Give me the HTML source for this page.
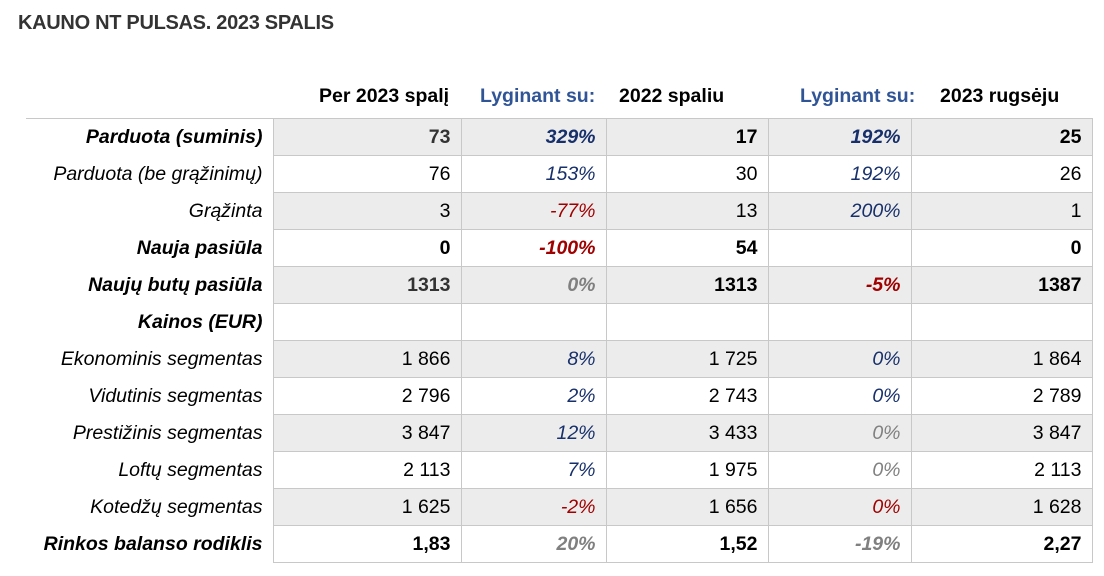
<!DOCTYPE html>
<html><head><meta charset="utf-8">
<style>
body{margin:0;width:1104px;height:576px;background:#fff;font-family:"Liberation Sans",Arial,sans-serif;position:relative;overflow:hidden}
#title{position:absolute;left:18px;top:12px;font-size:20px;font-weight:bold;color:#333;letter-spacing:-0.3px}
.hd{position:absolute;top:85px;font-size:19.5px;font-weight:bold;color:#000;white-space:nowrap}
.hd.b{color:#2f5597}
#topline{position:absolute;left:26px;top:118px;width:1066px;height:1px;background:#c8c8c8}
table{position:absolute;left:26px;top:118px;border-collapse:collapse;font-size:19.5px;table-layout:fixed}
td{height:36px;padding:0 10px 0 0;text-align:right;border:1px solid #c8c8c8;white-space:nowrap;line-height:36px;color:#000}
td.l{border:none;font-style:italic;padding-right:10px;}
tr.g td:not(.l){background:#ececec}
.bo{font-weight:bold}
.n{color:#17306b;font-style:italic}
.r{color:#a00000;font-style:italic}
.s{color:#808080;font-style:italic}
.dk{color:#333}
</style></head><body>
<div id="title">KAUNO NT PULSAS. 2023 SPALIS</div>
<div class="hd" style="left:319px">Per 2023 spalį</div>
<div class="hd b" style="left:480px">Lyginant su:</div>
<div class="hd" style="left:619px">2022 spaliu</div>
<div class="hd b" style="left:800px">Lyginant su:</div>
<div class="hd" style="left:940px">2023 rugsėju</div>
<div id="topline"></div>
<table>
<colgroup><col style="width:247px"><col style="width:188px"><col style="width:145px"><col style="width:162px"><col style="width:143px"><col style="width:181px"></colgroup>
<tr class="g bo"><td class="l">Parduota (suminis)</td><td class="dk">73</td><td class="n">329%</td><td>17</td><td class="n">192%</td><td>25</td></tr>
<tr><td class="l">Parduota (be grąžinimų)</td><td>76</td><td class="n">153%</td><td>30</td><td class="n">192%</td><td>26</td></tr>
<tr class="g"><td class="l">Grąžinta</td><td>3</td><td class="r">-77%</td><td>13</td><td class="n">200%</td><td>1</td></tr>
<tr class="bo"><td class="l">Nauja pasiūla</td><td>0</td><td class="r">-100%</td><td>54</td><td></td><td>0</td></tr>
<tr class="g bo"><td class="l">Naujų butų pasiūla</td><td class="dk">1313</td><td class="s">0%</td><td>1313</td><td class="r">-5%</td><td>1387</td></tr>
<tr class="bo"><td class="l">Kainos (EUR)</td><td></td><td></td><td></td><td></td><td></td></tr>
<tr class="g"><td class="l">Ekonominis segmentas</td><td>1 866</td><td class="n">8%</td><td>1 725</td><td class="n">0%</td><td>1 864</td></tr>
<tr><td class="l">Vidutinis segmentas</td><td>2 796</td><td class="n">2%</td><td>2 743</td><td class="n">0%</td><td>2 789</td></tr>
<tr class="g"><td class="l">Prestižinis segmentas</td><td>3 847</td><td class="n">12%</td><td>3 433</td><td class="s">0%</td><td>3 847</td></tr>
<tr><td class="l">Loftų segmentas</td><td>2 113</td><td class="n">7%</td><td>1 975</td><td class="s">0%</td><td>2 113</td></tr>
<tr class="g"><td class="l">Kotedžų segmentas</td><td>1 625</td><td class="r">-2%</td><td>1 656</td><td class="r">0%</td><td>1 628</td></tr>
<tr class="bo"><td class="l">Rinkos balanso rodiklis</td><td>1,83</td><td class="s">20%</td><td>1,52</td><td class="s">-19%</td><td>2,27</td></tr>
</table>
</body></html>
